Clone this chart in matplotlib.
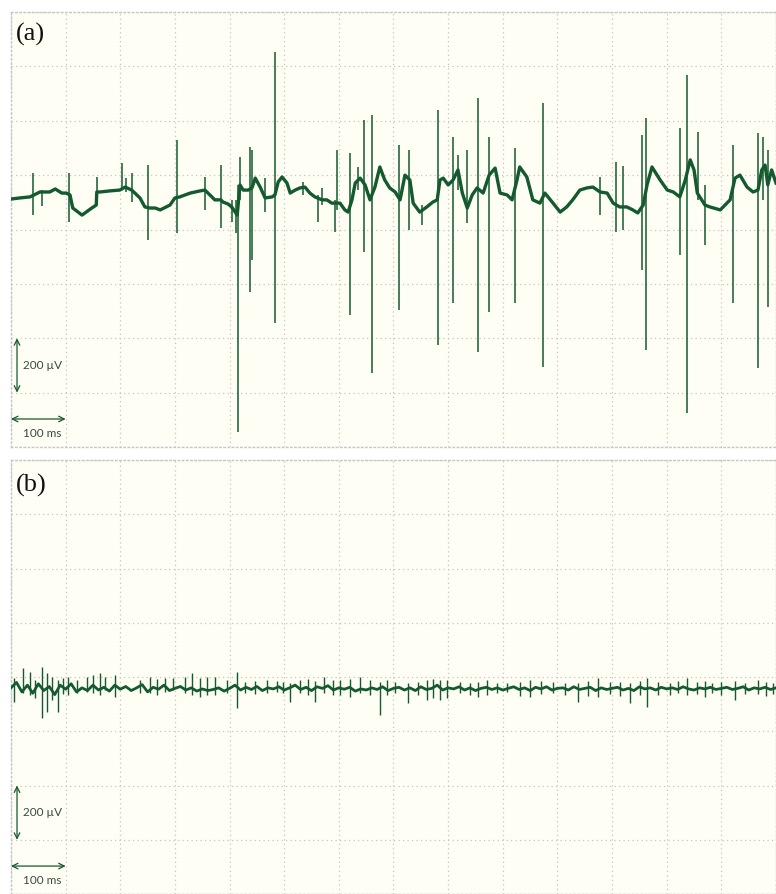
import numpy as np
import matplotlib
matplotlib.use("Agg")
import matplotlib.pyplot as plt

# ---------------- data (time in ms, potential in µV) ----------------
# Panel (a): slow baseline of the recording
a_base_t = [0, 16, 35, 53, 71, 81, 93, 101, 108, 113, 130, 145, 156, 157, 163, 181, 199, 209,
            221, 236, 245, 254, 264, 273, 291, 300, 309, 328, 346, 355, 364, 373, 384, 388,
            397, 404, 414, 419, 425, 434, 441, 447, 456, 465, 478, 483, 489, 496, 505, 511,
            520, 529, 538, 547, 556, 569, 578, 587, 602, 611, 617, 624, 630, 639, 648, 657,
            666, 675, 684, 693, 703, 712, 721, 730, 736, 748, 761, 772, 780, 785, 791, 800,
            809, 818, 826, 835, 844, 853, 864, 875, 886, 895, 908, 917, 926, 931, 944, 955,
            968, 977, 992, 1005, 1017, 1028, 1041, 1054, 1065, 1078, 1091, 1102, 1114, 1127,
            1138, 1147, 1157, 1164, 1173, 1188, 1201, 1212, 1224, 1234, 1243, 1250, 1256,
            1270, 1279, 1298, 1316, 1325, 1334, 1347, 1358, 1367, 1374, 1380, 1385, 1392, 1400]
a_base_v = [112, 116, 120, 138, 138, 149, 134, 134, 127, 79, 53, 75, 90, 138, 138, 142, 145, 156,
            145, 116, 83, 79, 79, 72, 90, 116, 120, 134, 142, 145, 127, 109, 109, 101,
            94, 83, 53, 164, 145, 145, 153, 189, 156, 116, 120, 127, 175, 193, 171, 134,
            145, 153, 156, 134, 120, 109, 109, 97, 97, 72, 64, 109, 171, 189, 164, 109,
            156, 230, 182, 153, 138, 109, 200, 182, 97, 64, 83, 101, 109, 182, 189, 164,
            182, 219, 134, 79, 127, 153, 134, 200, 226, 134, 127, 109, 182, 230, 193, 109,
            97, 134, 97, 64, 83, 109, 145, 153, 156, 138, 134, 97, 83, 83,
            72, 61, 90, 164, 230, 182, 145, 138, 120, 182, 256, 219, 134,
            90, 83, 72, 109, 189, 200, 156, 138, 145, 219, 237, 164, 219, 171]

# Panel (a): spikes (time, peak, trough)
a_spike_t = [40, 57, 106, 157, 203, 210, 221, 251, 304, 355, 384, 404, 412, 415, 419, 437, 441,
             465, 483, 534, 562, 569, 593, 597, 620, 635, 646, 661, 710, 728, 752, 781, 809,
             818, 834, 855, 875, 922, 974, 1078, 1107, 1120, 1155, 1162, 1224, 1237, 1257,
             1270, 1321, 1367, 1376, 1385]
a_spike_hi = [208, 145, 208, 193, 245, 189, 208, 237, 329, 193, 237, 109, 109, 164, 267, 303, 292,
              189, 653, 175, 127, 153, 109, 292, 281, 230, 403, 421, 311, 292, 90, 440, 340,
              274, 292, 484, 340, 300, 465, 193, 248, 234, 348, 410, 373, 568, 359,
              164, 311, 355, 340, 292]
a_spike_lo = [53, 86, 28, 90, 145, 138, 101, -39, -13, 72, 6, 28, -13, -745, 109, -230, -112,
              64, -344, 127, 28, 90, -9, 72, -314, 145, -83, -528, -296, -2, 17, -425, -270,
              145, 24, -451, -303, -270, -506, 53, -9, -2, -149, -443, -94, -675, 109,
              -57, -270, -509, 109, -285]

# Panel (b): noisy baseline samples, every 10 ms from 0 to 1400 ms
b_base_v = [-40, -20, -55, -30, -60, -25, -50, -35, -65, -30, -45,
            -25, -55, -40, -50, -30, -48, -38, -52, -30, -45,
            -35, -50, -40, -28, -55, -38, -45, -30, -50, -42,
            -35, -48, -40, -52, -44, -50, -46, -40, -52, -42,
            -30, -48, -38, -46, -35, -50, -40, -44, -36, -48,
            -40, -30, -46, -38, -50, -36, -42, -32, -48, -40,
            -45, -38, -52, -44, -48, -40, -46, -36, -50, -42,
            -38, -48, -40, -50, -36, -46, -42, -30, -48, -40,
            -44, -36, -48, -40, -50, -42, -38, -46, -40, -48,
            -42, -36, -46, -40, -50, -38, -44, -36, -48, -42,
            -40, -48, -36, -46, -42, -38, -50, -40, -46, -42,
            -38, -48, -42, -50, -36, -44, -40, -48, -38, -44,
            -40, -46, -36, -44, -48, -40, -44, -38, -46, -42,
            -38, -46, -42, -36, -48, -40, -44, -38, -46, -40]

# Panel (b): small noise spikes (time, peak, trough)
b_spike_t = [5, 22, 35, 44, 57, 66, 75, 86, 95, 104, 121, 139, 150, 163, 172, 190, 236, 254, 267,
             282, 296, 318, 331, 346, 359, 373, 395, 414, 428, 447, 468, 487, 498, 511, 529,
             544, 556, 573, 589, 602, 620, 639, 657, 675, 688, 703, 726, 745, 761, 772, 785,
             798, 822, 840, 855, 871, 889, 908, 931, 950, 970, 992, 1014, 1038, 1056, 1074,
             1096, 1114, 1133, 1151, 1164, 1184, 1206, 1221, 1237, 1255, 1270, 1283, 1300,
             1325, 1343, 1367, 1382, 1394]
b_spike_hi = [-4, 33, 18, -11, 37, 15, 0, -11, -4, 0, -11, 0, 7, 15, 0, 7, -11, 0, -7,
              -4, -4, 0, 15, -4, 0, 0, -11, 18, -18, -15, -11, -15, -18, -22, -11,
              -7, -15, 0, -11, -11, -7, 0, -11, -18, -11, -18, -22, -18, -11, -7, -11,
              -11, -18, -22, -18, -11, -22, -22, -18, -11, -15, -18, -22, -22, -15, -4,
              -18, -18, -22, -15, -4, -18, -22, -15, -4, -18, -15, -22, -18,
              -15, -22, -11, -18, -22]
b_spike_lo = [-92, -59, -66, -77, -151, -129, -85, -129, -63, -66, -59, -55, -59, -66, -48, -74,
              -59, -59, -66, -55, -48, -59, -66, -74, -66, -66, -59, -114, -59, -63, -59, -55,
              -59, -92, -59, -66, -92, -59, -66, -66, -74, -59, -66, -140, -66, -59, -96, -66,
              -85, -77, -85, -77, -59, -66, -74, -66, -59, -55, -70, -74, -63, -59, -66, -92,
              -70, -74, -63, -70, -96, -66, -111, -66, -66, -59, -66, -63, -74, -59, -66,
              -85, -63, -63, -70, -63]

panel_labels = ["(a)", "(b)"]
scale_v_label = "200 µV"
scale_t_label = "100 ms"

# ---------------- styling ----------------
TRACE = "#145a2e"
GRID = "#c6c6c6"
BG = "#fefef5"
TXT = "#3a4a40"

fig = plt.figure(figsize=(7.76, 8.94), dpi=100)
fig.patch.set_facecolor("white")

W, H = 776, 894
ax_a = fig.add_axes([11 / W, (H - 447) / H, 765 / W, 435 / H])
ax_b = fig.add_axes([11 / W, 0.0, 765 / W, 434 / H])


def style(ax, label, label_y):
    ax.set_facecolor(BG)
    ax.set_xlim(0, 1400)
    ax.set_ylim(-800, 800)
    ax.set_xticks(np.arange(0, 1401, 100))
    ax.set_yticks(np.arange(-800, 801, 200))
    ax.grid(True, color=GRID, linestyle=(0, (1, 2.6)), linewidth=0.9)
    ax.tick_params(length=0, labelbottom=False, labelleft=False)
    for s in ax.spines.values():
        s.set_color(GRID)
        s.set_linestyle((0, (1, 2)))
        s.set_linewidth(1.0)
    ax.text(9, label_y, label, ha="left", va="center", fontsize=19,
            family="Liberation Serif", color="#111111", zorder=5)
    # scale bars
    ax.annotate("", xy=(11, -400), xytext=(11, -600),
                arrowprops=dict(arrowstyle="<->", color=TRACE, lw=0.9,
                                shrinkA=0, shrinkB=0, mutation_scale=10), zorder=5)
    ax.text(22, -500, scale_v_label, ha="left", va="center", fontsize=8.5,
            family="Lato", color=TXT, zorder=5)
    ax.annotate("", xy=(0, -697), xytext=(100, -697),
                arrowprops=dict(arrowstyle="<->", color=TRACE, lw=0.9,
                                shrinkA=0, shrinkB=0, mutation_scale=10), zorder=5)
    ax.text(22, -752, scale_t_label, ha="left", va="center", fontsize=8.5,
            family="Lato", color=TXT, zorder=5)


style(ax_a, panel_labels[0], 719)
style(ax_b, panel_labels[1], 705)

# panel (a) trace
ax_a.plot(a_base_t, a_base_v, color=TRACE, lw=2.4, zorder=3, solid_joinstyle="round")
ax_a.vlines(a_spike_t, a_spike_lo, a_spike_hi, color=TRACE, lw=1.1, zorder=3)

# panel (b) trace
b_base_t = np.linspace(0, 1400, len(b_base_v))
ax_b.plot(b_base_t, b_base_v, color=TRACE, lw=2.0, zorder=3, solid_joinstyle="round")
ax_b.vlines(b_spike_t, b_spike_lo, b_spike_hi, color=TRACE, lw=1.0, zorder=3)

fig.savefig("out.png", dpi=100, facecolor="white")
